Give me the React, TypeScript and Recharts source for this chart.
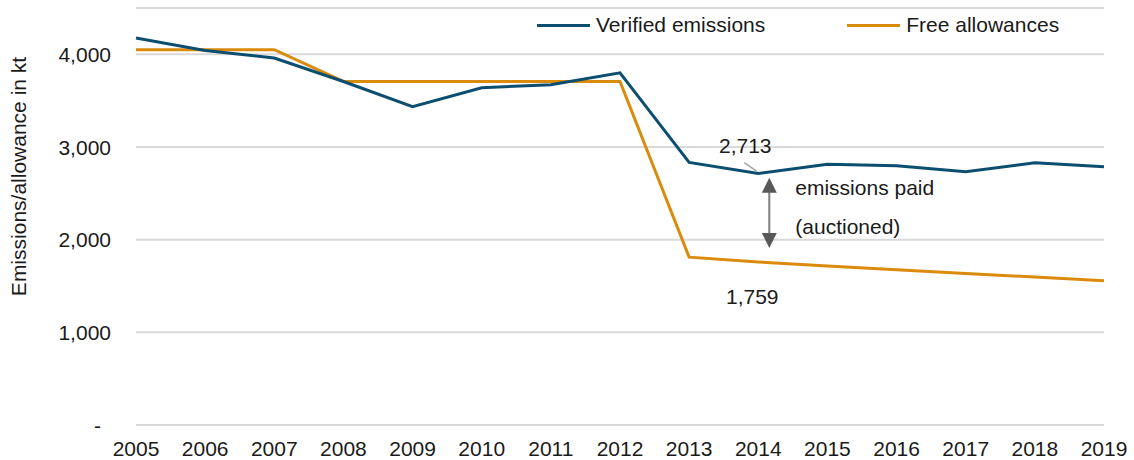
import {CartesianGrid, LabelList, Line, LineChart, ReferenceLine, XAxis, YAxis} from "recharts";

const years = ["2005", "2006", "2007", "2008", "2009", "2010", "2011", "2012", "2013", "2014", "2015", "2016", "2017", "2018", "2019"];
const verified = [4176, 4042, 3960, 3707, 3434, 3639, 3672, 3801, 2833, 2713, 2815, 2797, 2732, 2829, 2786];
const freeAllowances = [4050, 4050, 4050, 3707, 3707, 3707, 3707, 3707, 1811, 1759, 1716, 1675, 1636, 1596, 1556];
const yTicks = [0, 1000, 2000, 3000, 4000];
const seriesNames = ["Verified emissions", "Free allowances"];
const colors = ["#0c4e70", "#db8b0b"];
const gapLabel = ["emissions paid", "(auctioned)"];
const labelYear = "2014";

const font = "'Liberation Sans', Arial, sans-serif";
const fs = 21;

const data = years.map((y, i) => ({year: y, verified: verified[i], free: freeAllowances[i]}));

const fmt = (v: number) => v === 0 ? "-" : v.toLocaleString("en-US");

function YTick(props: any) {
    const {x, y, payload} = props;
    const zero = payload.value === 0;
    return (
        <text x={zero ? x - 10 : x} y={y} textAnchor="end" dominantBaseline="central"
              fontFamily={font} fontSize={fs} fill="#1a1a1a">
            {fmt(payload.value)}
        </text>
    );
}

function VerifiedLabel(props: any) {
    const {x, y, value, index} = props;
    if (years[index] !== labelYear) return null;
    return (
        <g>
            <line x1={x - 14} y1={y - 11} x2={x - 1} y2={y - 2} stroke="#a6a6a6" strokeWidth={1.5}/>
            <text x={x - 13} y={y - 28} textAnchor="middle" dominantBaseline="central"
                  fontFamily={font} fontSize={fs} fill="#1a1a1a">{fmt(value)}</text>
        </g>
    );
}

function FreeLabel(props: any) {
    const {x, y, value, index} = props;
    if (years[index] !== labelYear) return null;
    return (
        <text x={x - 6} y={y + 35} textAnchor="middle" dominantBaseline="central"
              fontFamily={font} fontSize={fs} fill="#1a1a1a">{fmt(value)}</text>
    );
}

function GapArrow(props: any) {
    const {x1, y1, y2} = props;
    const x = x1 + 11;
    const top = Math.min(y1, y2);
    const bot = Math.max(y1, y2);
    return (
        <g>
            <line x1={x} y1={top + 12} x2={x} y2={bot - 12} stroke="#7f7f7f" strokeWidth={2}/>
            <polygon points={`${x},${top} ${x - 7.5},${top + 15} ${x + 7.5},${top + 15}`} fill="#595959"/>
            <polygon points={`${x},${bot} ${x - 7.5},${bot - 15} ${x + 7.5},${bot - 15}`} fill="#595959"/>
            <text x={x + 26} y={top + 10} dominantBaseline="central" fontFamily={font} fontSize={fs}
                  fill="#1a1a1a">{gapLabel[0]}</text>
            <text x={x + 26} y={top + 49} dominantBaseline="central" fontFamily={font} fontSize={fs}
                  fill="#1a1a1a">{gapLabel[1]}</text>
        </g>
    );
}

export default function App() {
    return (
        <div style={{position: "absolute", left: 0, top: 0, width: 1134, height: 460, background: "#fff"}}>
            <div style={{
                position: "absolute", top: 13, left: 537, display: "flex", fontFamily: font,
                fontSize: fs, color: "#1a1a1a", zIndex: 2
            }}>
                {seriesNames.map((n, i) => (
                    <div key={n} style={{display: "flex", alignItems: "center", marginRight: i === 0 ? 82 : 0}}>
                        <div style={{width: 53, height: 3, background: colors[i], marginRight: 6}}/>
                        <span>{n}</span>
                    </div>
                ))}
            </div>
            <LineChart width={1134} height={460} data={data} margin={{top: 8, right: 30, left: 0, bottom: 0}}>
                <CartesianGrid vertical={false} stroke="#d9d9d9" strokeWidth={2}/>
                <XAxis dataKey="year" axisLine={false} tickLine={false} tickSize={0} tickMargin={16} height={35}
                       interval={0} tick={{fontFamily: font, fontSize: fs, fill: "#1a1a1a"}}/>
                <YAxis domain={[0, 4500]} ticks={yTicks} axisLine={false} tickLine={false} tickSize={0}
                       tickMargin={25} width={136} tick={<YTick/>}
                       label={{
                           value: "Emissions/allowance in kt", angle: -90, position: "insideLeft", dx: 14, dy: -40,
                           style: {fontFamily: font, fontSize: fs, fill: "#1a1a1a", textAnchor: "middle"}
                       }}/>
                <ReferenceLine segment={[{x: labelYear, y: 2667}, {x: labelYear, y: 1911}]} shape={<GapArrow/>}/>
                <Line dataKey="free" name={seriesNames[1]} stroke={colors[1]} strokeWidth={3} dot={false}
                      isAnimationActive={false}>
                    <LabelList dataKey="free" content={<FreeLabel/>}/>
                </Line>
                <Line dataKey="verified" name={seriesNames[0]} stroke={colors[0]} strokeWidth={3} dot={false}
                      isAnimationActive={false}>
                    <LabelList dataKey="verified" content={<VerifiedLabel/>}/>
                </Line>
            </LineChart>
        </div>
    );
}
